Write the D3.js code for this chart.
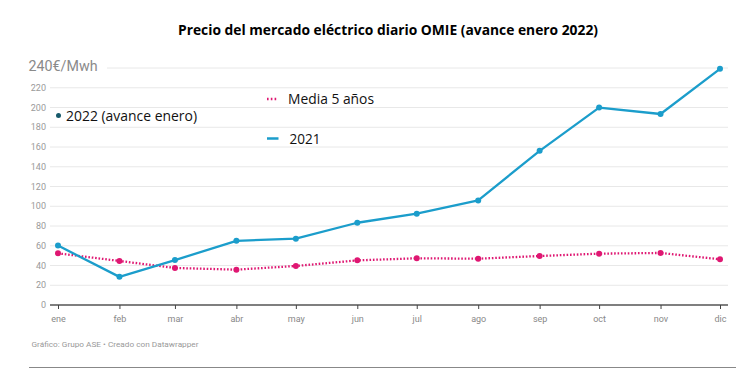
<!DOCTYPE html>
<html><head><meta charset="utf-8">
<script src="https://cdn.jsdelivr.net/npm/d3@7"></script>
<style>body{margin:0;background:#fff}svg{display:block}</style>
</head><body>
<svg id="c" width="738" height="377"></svg>
<script>
const months = ["ene","feb","mar","abr","may","jun","jul","ago","sep","oct","nov","dic"];
const values2021 = [60.17,28.49,45.45,65.02,67.12,83.30,92.42,105.94,156.14,199.90,193.43,239.17];
const valuesMedia = [52.3,44.6,37.5,35.8,39.5,45.2,47.3,46.9,49.6,52.0,52.7,46.3];
const yTicks = [0,20,40,60,80,100,120,140,160,180,200,220,240];
const title = "Precio del mercado eléctrico diario OMIE (avance enero 2022)";

const svg = d3.select("#c");
const dates = months.map((m,i)=>new Date(2021,i,1));
const x = d3.scaleTime().domain([dates[0], dates[11]]).range([58,720]);
const y = d3.scaleLinear().domain([0,240]).range([305,68]);

svg.append("text").attr("x",388).attr("y",34.5).attr("text-anchor","middle")
  .attr("font-family","Open Sans").attr("font-weight","bold").attr("font-size",14)
  .attr("textLength",420).attr("lengthAdjust","spacingAndGlyphs").attr("fill","#000").text(title);

// gridlines
svg.append("g").selectAll("line").data(yTicks.filter(d=>d>0)).join("line")
  .attr("x1",d=>d===240?107:50).attr("x2",728)
  .attr("y1",d=>y(d)).attr("y2",d=>y(d))
  .attr("stroke","#e8e8e8").attr("stroke-width",1);

// y tick labels
svg.append("g").selectAll("text").data(yTicks.filter(d=>d<240)).join("text")
  .attr("x",46).attr("y",d=>y(d)+3.2).attr("text-anchor","end")
  .attr("font-family","Roboto").attr("font-size",9).attr("fill","#9a9a9a").text(d=>d);
svg.append("text").attr("x",28.5).attr("y",71).attr("font-family","Roboto").attr("font-size",14)
  .attr("fill","#8a8a8a").attr("textLength",69).attr("lengthAdjust","spacingAndGlyphs").text("240€/Mwh");

// x axis
const xAxis = d3.axisBottom(x).tickValues(dates).tickFormat((d,i)=>months[i]).tickSize(4).tickPadding(6.5);
const ga = svg.append("g").attr("transform","translate(0,305)").call(xAxis);
ga.select(".domain").attr("d","M50,0H728").attr("stroke","#555").attr("stroke-width",1.5);
ga.selectAll(".tick line").attr("stroke","#444");
ga.selectAll(".tick text").attr("font-family","Roboto").attr("font-size",9).attr("fill","#888");

// lines
const line = d3.line().x((d,i)=>x(dates[i])).y(d=>y(d));
const cPink = "#df1772", cBlue = "#1b9dcb";
svg.append("path").datum(valuesMedia).attr("d",line).attr("fill","none")
  .attr("stroke",cPink).attr("stroke-width",2.3).attr("stroke-dasharray","1.6,1.8");
svg.append("g").selectAll("circle").data(valuesMedia).join("circle")
  .attr("cx",(d,i)=>x(dates[i])).attr("cy",d=>y(d)).attr("r",3).attr("fill",cPink);
svg.append("path").datum(values2021).attr("d",line).attr("fill","none")
  .attr("stroke",cBlue).attr("stroke-width",2.3).attr("stroke-linejoin","round");
svg.append("g").selectAll("circle").data(values2021).join("circle")
  .attr("cx",(d,i)=>x(dates[i])).attr("cy",d=>y(d)).attr("r",3).attr("fill",cBlue);

// legends
svg.append("circle").attr("cx",58.5).attr("cy",115.5).attr("r",2.5).attr("fill","#175a6b");
svg.append("text").attr("x",66).attr("y",120.5).attr("font-family","Open Sans").attr("font-size",14)
  .attr("fill","#111").attr("textLength",131).attr("lengthAdjust","spacingAndGlyphs").text("2022 (avance enero)");
svg.append("line").attr("x1",267).attr("x2",277).attr("y1",99).attr("y2",99)
  .attr("stroke",cPink).attr("stroke-width",2.3).attr("stroke-dasharray","1.6,2.2");
svg.append("text").attr("x",288).attr("y",104).attr("font-family","Open Sans").attr("font-size",14)
  .attr("fill","#111").attr("textLength",86).attr("lengthAdjust","spacingAndGlyphs").text("Media 5 años");
svg.append("line").attr("x1",267).attr("x2",278.5).attr("y1",138.5).attr("y2",138.5)
  .attr("stroke",cBlue).attr("stroke-width",2.5);
svg.append("text").attr("x",289.5).attr("y",143.5).attr("font-family","Open Sans").attr("font-size",14)
  .attr("fill","#111").attr("textLength",31).attr("lengthAdjust","spacingAndGlyphs").text("2021");

// footer
svg.append("text").attr("x",31.5).attr("y",347).attr("font-family","Roboto").attr("font-size",8)
  .attr("fill","#999").attr("textLength",167).attr("lengthAdjust","spacingAndGlyphs")
  .text("Gráfico: Grupo ASE • Creado con Datawrapper");
svg.append("line").attr("x1",29).attr("x2",736).attr("y1",367.5).attr("y2",367.5)
  .attr("stroke","#888").attr("stroke-width",1);
</script>
</body></html>
